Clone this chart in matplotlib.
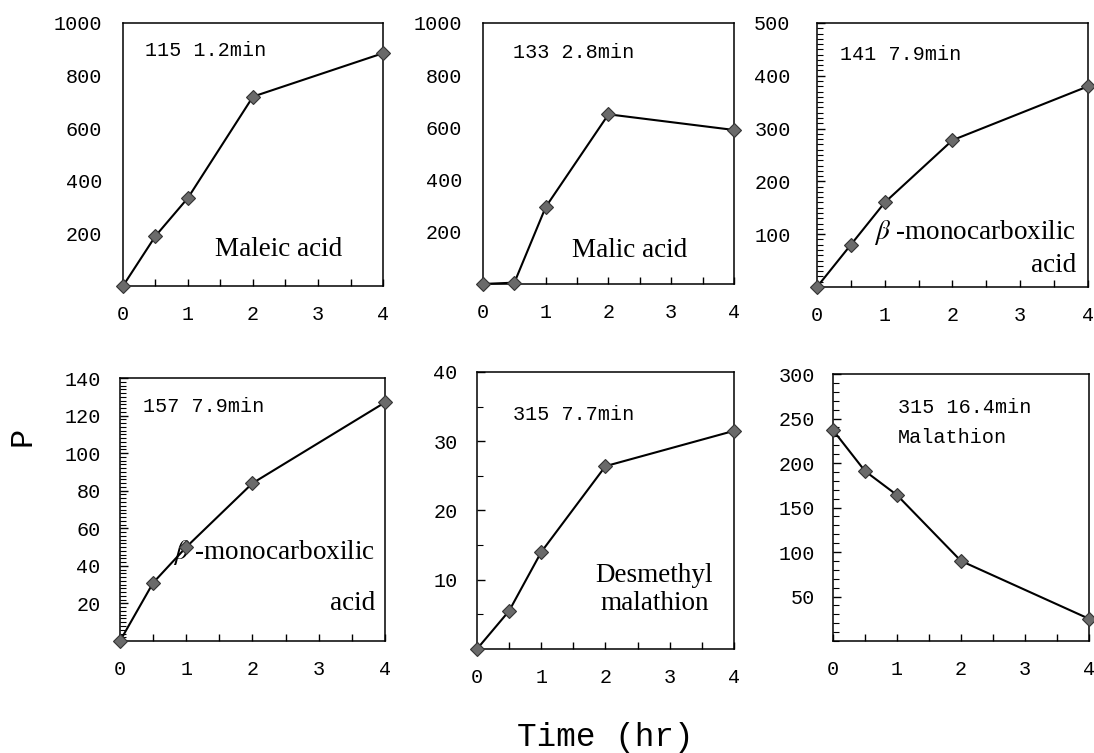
import matplotlib
matplotlib.use('Agg')
import matplotlib.pyplot as plt
from matplotlib.ticker import MultipleLocator, FixedLocator

plt.rcParams['mathtext.fontset'] = 'stix'

mono = 'Liberation Mono'
serif = 'Liberation Serif'

time_hr = [0, 0.5, 1, 2, 4]

maleic = [0, 190, 335, 720, 885]
malic = [0, 5, 295, 650, 590]
mono141 = [0, 80, 160, 278, 380]
mono157 = [0, 31, 50, 84, 127]
desmethyl = [0, 5.5, 14, 26.4, 31.5]
malathion = [237, 191, 164, 90, 25]

x_ticks = [0, 1, 2, 3, 4]

fig = plt.figure(figsize=(10.94, 7.53), dpi=100)

# [left, bottom, width, height], values, ymax, y tick labels, minor step, y tick pad, show y ticks
panels = [
    ([0.1124, 0.6202, 0.2377, 0.3493], maleic, 1000, [200, 400, 600, 800, 1000], None, 15, False),
    ([0.4415, 0.6229, 0.2294, 0.3466], malic, 1000, [200, 400, 600, 800, 1000], None, 15, False),
    ([0.7468, 0.6189, 0.2477, 0.3506], mono141, 500, [100, 200, 300, 400, 500], 10, 19, True),
    ([0.1097, 0.1487, 0.2422, 0.3493], mono157, 140, [20, 40, 60, 80, 100, 120, 140], 2, 14, True),
    ([0.4360, 0.1381, 0.2349, 0.3679], desmethyl, 40, [10, 20, 30, 40], 5, 14, True),
    ([0.7614, 0.1487, 0.2340, 0.3546], malathion, 300, [50, 100, 150, 200, 250, 300], 10, 13, True),
]

axes = []
for rect, vals, ymax, yt, minor, ypad, yticks_on in panels:
    ax = fig.add_axes(rect)
    ax.plot(time_hr, vals, color='black', lw=1.5, marker='D', markersize=7.5,
            markerfacecolor='#6a6a6a', markeredgecolor='#333333', markeredgewidth=0.8,
            clip_on=False, zorder=5)
    ax.set_xlim(0, 4)
    ax.set_ylim(0, ymax)
    ax.xaxis.set_major_locator(FixedLocator(x_ticks))
    ax.xaxis.set_minor_locator(MultipleLocator(0.5))
    ax.yaxis.set_major_locator(FixedLocator(yt))
    if minor:
        ax.yaxis.set_minor_locator(MultipleLocator(minor))
    ax.tick_params(axis='x', which='both', direction='in', length=5, width=1, pad=14,
                   labelsize=14.5)
    ax.tick_params(axis='y', which='major', direction='in', length=6 if yticks_on else 0,
                   width=1, pad=ypad, labelsize=14.5)
    ax.tick_params(axis='y', which='minor', direction='in', length=4 if yticks_on else 0, width=0.8)
    for lab in ax.get_xticklabels() + ax.get_yticklabels():
        lab.set_fontfamily(mono)
    for s in ax.spines.values():
        s.set_linewidth(1.1)
    axes.append(ax)

ann = dict(fontfamily=mono, fontsize=14.5, va='center')
big = dict(fontfamily=serif, fontsize=19.5)

ax1, ax2, ax3, ax4, ax5, ax6 = axes

ax1.text(0.085, 0.897, '115 1.2min', transform=ax1.transAxes, ha='left', **ann)
ax1.text(0.60, 0.137, 'Maleic acid', transform=ax1.transAxes, ha='center', va='center', **big)

ax2.text(0.12, 0.885, '133 2.8min', transform=ax2.transAxes, ha='left', **ann)
ax2.text(0.585, 0.13, 'Malic acid', transform=ax2.transAxes, ha='center', va='center', **big)

ax3.text(0.085, 0.879, '141 7.9min', transform=ax3.transAxes, ha='left', **ann)
ax3.text(0.955, 0.205, r'$\beta$ -monocarboxilic', transform=ax3.transAxes, ha='right', va='center', **big)
ax3.text(0.955, 0.083, 'acid', transform=ax3.transAxes, ha='right', va='center', **big)

ax4.text(0.087, 0.89, '157 7.9min', transform=ax4.transAxes, ha='left', **ann)
ax4.text(0.962, 0.335, r'$\beta$ -monocarboxilic', transform=ax4.transAxes, ha='right', va='center', **big)
ax4.text(0.962, 0.144, 'acid', transform=ax4.transAxes, ha='right', va='center', **big)

ax5.text(0.14, 0.845, '315 7.7min', transform=ax5.transAxes, ha='left', **ann)
ax5.text(0.69, 0.267, 'Desmethyl', transform=ax5.transAxes, ha='center', va='center', **big)
ax5.text(0.69, 0.166, 'malathion', transform=ax5.transAxes, ha='center', va='center', **big)

ax6.text(0.254, 0.876, '315 16.4min', transform=ax6.transAxes, ha='left', **ann)
ax6.text(0.254, 0.764, 'Malathion', transform=ax6.transAxes, ha='left', **ann)

fig.text(0.021, 0.42, 'P', fontfamily=mono, fontsize=23, rotation=90, ha='center', va='center')
fig.text(0.553, 0.021, 'Time (hr)', fontfamily=mono, fontsize=23.5, ha='center', va='center')

fig.savefig('out.png', dpi=100)
